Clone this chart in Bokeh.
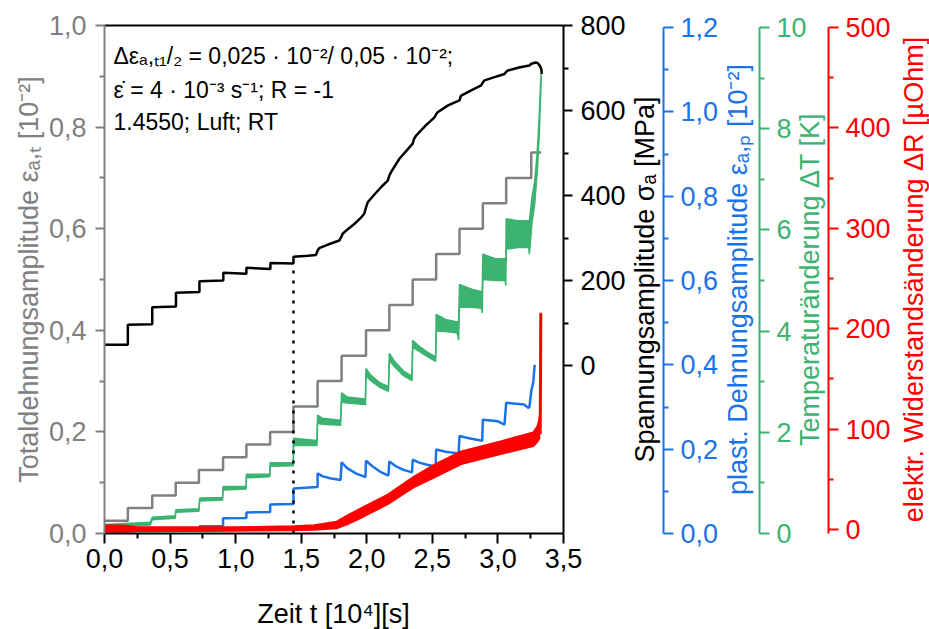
import math
from bokeh.plotting import figure
from bokeh.models import Range1d, LinearAxis, FixedTicker, Label, CustomJSTickFormatter
from bokeh.embed import file_html
from bokeh.resources import INLINE

FONT = "Liberation Sans"
GRAY = "#808080"
BLUE = "#1a73e8"
GREEN = "#3cb371"
RED = "#ff0000"
BLACK = "#000000"

# ---------------- data (time in 10^4 s) ----------------
# total strain amplitude (gray, step function)
gray_t = [0.0, 0.178, 0.364, 0.543, 0.720, 0.904, 1.082, 1.263, 1.441, 1.625, 1.808,
          1.994, 2.172, 2.350, 2.529, 2.707, 2.885, 3.063, 3.254, 3.330]
gray_eps = [0.025, 0.05, 0.075, 0.10, 0.125, 0.15, 0.175, 0.20, 0.25, 0.30, 0.35,
            0.40, 0.45, 0.50, 0.55, 0.60, 0.65, 0.70, 0.75, 0.75]

# stress amplitude [MPa] (black)
stress_t = [0.0, 0.178, 0.178, 0.364, 0.364, 0.545, 0.545, 0.724, 0.724, 0.906, 0.906,
            1.082, 1.082, 1.265, 1.265, 1.441, 1.441, 1.55, 1.612, 1.625, 1.637, 1.70,
            1.79, 1.808, 1.816, 1.86, 1.905, 1.95, 1.981, 1.994, 2.007, 2.06, 2.11, 2.16,
            2.172, 2.185, 2.25, 2.31, 2.35, 2.36, 2.376, 2.45, 2.516, 2.529, 2.54, 2.62,
            2.707, 2.715, 2.72, 2.80, 2.872, 2.885, 2.898, 2.98, 3.05, 3.063, 3.076, 3.16,
            3.24, 3.255, 3.267, 3.29, 3.305, 3.32, 3.33, 3.335]
stress_val = [49, 49, 96, 97, 137, 139, 171, 173, 198, 200, 218,
              216, 230, 227, 241, 240, 256, 258, 260, 270, 276, 284,
              294, 304, 310, 322, 333, 346, 357, 372, 384, 403, 420, 435,
              447, 455, 487, 508, 522, 533, 541, 565, 584, 591, 596, 612,
              624, 632, 635, 648, 659, 666, 671, 679, 686, 691, 694, 701,
              706, 710, 711, 713, 711, 705, 698, 686]

# plastic strain amplitude [10^-2] (blue)
plast_t = [0.720, 0.904, 0.904, 1.082, 1.082, 1.263, 1.263, 1.441, 1.441, 1.625, 1.625,
           1.66, 1.72, 1.80, 1.808, 1.85, 1.92, 1.99, 1.994, 2.04, 2.10, 2.165, 2.172,
           2.22, 2.28, 2.345, 2.35, 2.40, 2.46, 2.525, 2.529, 2.60, 2.70, 2.707, 2.78,
           2.88, 2.885, 3.00, 3.05, 3.063, 3.20, 3.23, 3.24, 3.255, 3.27, 3.28]
plast_val = [0.017, 0.018, 0.036, 0.037, 0.050, 0.051, 0.069, 0.070, 0.107, 0.110, 0.143,
             0.136, 0.131, 0.127, 0.169, 0.155, 0.142, 0.134, 0.173, 0.160, 0.147, 0.1375, 0.171,
             0.160, 0.151, 0.145, 0.175, 0.168, 0.163, 0.159, 0.199, 0.194, 0.190, 0.231, 0.226,
             0.220, 0.270, 0.266, 0.258, 0.310, 0.306, 0.298, 0.300, 0.339, 0.360, 0.400]

# temperature change [K] (green band: lower / upper envelope)
temp_t = [0.00, 0.35, 0.364, 0.54, 0.543, 0.72, 0.726, 0.90, 0.904, 1.08, 1.082, 1.26,
          1.263, 1.44, 1.441, 1.62, 1.625, 1.66, 1.80, 1.808, 1.85, 1.99, 1.994, 2.03,
          2.10, 2.165, 2.172, 2.21, 2.28, 2.345, 2.35, 2.40, 2.46, 2.525, 2.529, 2.60,
          2.69, 2.70, 2.707, 2.80, 2.875, 2.88, 2.885, 2.98, 3.055, 3.06, 3.063, 3.15,
          3.235, 3.24, 3.26, 3.28, 3.30, 3.315, 3.325, 3.33]
temp_lo = [0.13, 0.17, 0.27, 0.30, 0.42, 0.44, 0.64, 0.66, 0.86, 0.88, 1.10, 1.12,
           1.33, 1.34, 1.74, 1.74, 2.18, 2.16, 2.14, 2.60, 2.58, 2.55, 3.12, 3.02,
           2.89, 2.81, 3.42, 3.30, 3.12, 3.02, 3.68, 3.60, 3.50, 3.40, 4.00, 3.99,
           3.96, 3.82, 4.47, 4.47, 4.45, 4.36, 5.02, 5.00, 5.00, 4.90, 5.62, 5.65,
           5.65, 5.52, 6.15, 6.50, 7.15, 7.90, 8.60, 9.00]
temp_hi = [0.18, 0.22, 0.32, 0.35, 0.47, 0.49, 0.70, 0.71, 0.93, 0.93, 1.17, 1.17,
           1.40, 1.40, 1.88, 1.84, 2.34, 2.28, 2.24, 2.78, 2.70, 2.66, 3.26, 3.13,
           2.98, 2.90, 3.56, 3.41, 3.21, 3.11, 3.82, 3.70, 3.59, 3.49, 4.33, 4.23,
           4.18, 4.18, 4.92, 4.83, 4.78, 4.78, 5.52, 5.43, 5.43, 5.38, 6.22, 6.18,
           6.18, 6.18, 6.65, 6.95, 7.55, 8.25, 8.90, 9.10]

# electrical resistance change [uOhm] (red band)
res_t = [0.00, 0.17, 0.25, 1.00, 1.44, 1.60, 1.77, 1.85, 1.98, 2.16, 2.36, 2.52,
         2.72, 3.02, 3.27, 3.30, 3.315, 3.322]
res_lo = [-2.5, -2.5, -2.0, -1.5, -1.0, -0.5, 1.0, 5, 13, 25, 42, 52,
          65, 75, 83, 87, 90, 92]
res_hi = [4.5, 4.0, 2.5, 2.5, 3.5, 4.5, 8.0, 14, 23, 35, 53, 65,
          78, 88, 97, 103, 110, 120]
res_spike_t = [3.322, 3.325, 3.327]
res_spike_val = [95, 160, 216]

# ---------------- layout (pixels of the 929 x 629 page) ----------------
W, H = 929, 629
PL, PR, PT, PB = 104, 563, 25, 533      # main plot box
T_MAX = 3.5


def px_to_t(px):                         # horizontal pixel -> time
    return (px - PL) * T_MAX / (PR - PL)


def py_lin(v0_py, v1_py, v1):            # vertical pixel -> value, for one scale
    return lambda py: (v0_py - py) * v1 / (v0_py - v1_py)


to_eps = py_lin(PB, PT, 1.0)             # total strain   0 at 533, 1.0 at 25
to_sig = py_lin(365, PT, 800.0)          # stress         0 at 365, 800 at 25
to_epl = py_lin(PB, 27, 1.2)             # plastic strain 0 at 533, 1.2 at 27
to_tmp = py_lin(PB, 27, 10.0)            # temperature    0 at 533, 10 at 27
to_res = py_lin(529, 27, 500.0)          # resistance     0 at 529, 500 at 27

p = figure(frame_width=W, frame_height=H,
           x_range=Range1d(px_to_t(0), px_to_t(W)),
           y_range=Range1d(to_eps(H), to_eps(0)),
           x_axis_location=None, y_axis_location=None,
           output_backend="svg", toolbar_location=None,
           min_border=0)
p.grid.visible = False
p.outline_line_color = None
p.background_fill_color = "white"
p.border_fill_color = "white"

p.extra_y_ranges = {
    "stress": Range1d(to_sig(H), to_sig(0)),
    "plast": Range1d(to_epl(H), to_epl(0)),
    "temp": Range1d(to_tmp(H), to_tmp(0)),
    "res": Range1d(to_res(H), to_res(0)),
}


def make_axis(color, ticks, minor, major_out=9, minor_out=5, standoff=7, comma=False, **kw):
    ax = LinearAxis(**kw)
    ax.ticker = FixedTicker(ticks=ticks, minor_ticks=minor)
    if comma:
        ax.formatter = CustomJSTickFormatter(code="return tick.toFixed(1).replace('.', ',')")
    ax.axis_line_color = color
    ax.axis_line_width = 2
    ax.major_tick_line_color = color
    ax.major_tick_line_width = 2
    ax.minor_tick_line_color = color
    ax.minor_tick_line_width = 2
    ax.major_tick_in = 0
    ax.major_tick_out = major_out
    ax.minor_tick_in = 0
    ax.minor_tick_out = minor_out
    ax.major_label_text_color = color
    ax.major_label_text_font = FONT
    ax.major_label_text_font_size = "27px"
    ax.major_label_standoff = standoff
    return ax


# bottom time axis
ax_x = make_axis(BLACK, [0.0, 0.5, 1.0, 1.5, 2.0, 2.5, 3.0, 3.5],
                 [0.25, 0.75, 1.25, 1.75, 2.25, 2.75, 3.25],
                 major_out=10, standoff=5, comma=True,
                 fixed_location=0.0, bounds=(0, T_MAX))
p.add_layout(ax_x, "below")

# top border line
ax_top = LinearAxis(ticker=FixedTicker(ticks=[]), axis_line_color=BLACK, axis_line_width=2,
                    major_tick_out=0, major_tick_in=0, major_label_standoff=0,
                    minor_tick_out=0, minor_tick_in=0,
                    fixed_location=1.0, bounds=(0, T_MAX))
p.add_layout(ax_top, "above")

# left axis: total strain amplitude
ax_y = make_axis(GRAY, [0.0, 0.2, 0.4, 0.6, 0.8, 1.0], [0.1, 0.3, 0.5, 0.7, 0.9],
                 standoff=9, comma=True, fixed_location=0.0, bounds=(0, 1.0))
p.add_layout(ax_y, "left")

# right-hand axes
ax_s = make_axis(BLACK, [0, 200, 400, 600, 800], [100, 300, 500, 700], standoff=8,
                 y_range_name="stress", fixed_location=T_MAX,
                 bounds=(to_sig(PB), to_sig(PT)))
ax_p = make_axis(BLUE, [0.0, 0.2, 0.4, 0.6, 0.8, 1.0, 1.2], [0.1, 0.3, 0.5, 0.7, 0.9, 1.1],
                 major_out=10, standoff=7, comma=True,
                 y_range_name="plast", fixed_location=px_to_t(663), bounds=(0, 1.2))
ax_t = make_axis(GREEN, [0, 2, 4, 6, 8, 10], [1, 3, 5, 7, 9], major_out=10, standoff=7,
                 y_range_name="temp", fixed_location=px_to_t(759), bounds=(0, 10))
ax_r = make_axis(RED, [0, 100, 200, 300, 400, 500], [50, 150, 250, 350, 450],
                 major_out=10, standoff=7,
                 y_range_name="res", fixed_location=px_to_t(828),
                 bounds=(to_res(PB), 500))
for ax in (ax_s, ax_p, ax_t, ax_r):
    p.add_layout(ax, "right")

# ---------------- glyphs ----------------
p.step(gray_t, gray_eps, mode="after", line_color=GRAY, line_width=2.5)

p.varea(x=temp_t, y1=temp_lo, y2=temp_hi, y_range_name="temp", fill_color=GREEN)
p.line(temp_t, temp_lo, y_range_name="temp", line_color=GREEN, line_width=1.5)
p.line(temp_t, temp_hi, y_range_name="temp", line_color=GREEN, line_width=1.5)

p.line(plast_t, plast_val, y_range_name="plast", line_color=BLUE, line_width=2.5)

p.varea(x=res_t, y1=res_lo, y2=res_hi, y_range_name="res", fill_color=RED)
p.line(res_t, res_lo, y_range_name="res", line_color=RED, line_width=1.5)
p.line(res_t, res_hi, y_range_name="res", line_color=RED, line_width=1.5)
p.line(res_spike_t, res_spike_val, y_range_name="res", line_color=RED, line_width=3)

p.line(stress_t, stress_val, y_range_name="stress", line_color=BLACK, line_width=2.5)

# dotted marker line at the change of the step size (from time axis up to the stress curve)
i_change = stress_t.index(1.441)
p.segment(x0=[stress_t[i_change]], y0=[to_sig(PB)],
          x1=[stress_t[i_change]], y1=[stress_val[i_change]],
          y_range_name="stress", line_color=BLACK, line_width=2.5, line_dash="3 7")

# ---------------- axis titles ----------------
def title(txt, col, px, py, angle=0.0):
    p.add_layout(Label(x=px_to_t(px), y=to_eps(py), text=txt, angle=angle,
                       text_align="center", text_baseline="middle",
                       text_font=FONT, text_font_size="27px", text_color=col))


title("Zeit t [10⁴][s]", BLACK, 333, 613)
title("Totaldehnungsamplitude εₐ,ₜ [10⁻²]", GRAY, 28, 279, math.pi / 2)
title("Spannungsamplitude σₐ [MPa]", BLACK, 644, 279, math.pi / 2)
title("plast. Dehnungsamplitude εₐ,ₚ [10⁻²]", BLUE, 737, 279, math.pi / 2)
title("Temperaturänderung ΔT [K]", GREEN, 809, 279, math.pi / 2)
title("elektr. Widerstandsänderung ΔR [µOhm]", RED, 913, 279, math.pi / 2)

# ---------------- annotation ----------------
lines = ["Δεₐ,ₜ₁/₂ = 0,025 · 10⁻²/ 0,05 · 10⁻²;",
         "ε̇ = 4 · 10⁻³ s⁻¹; R = -1",
         "1.4550; Luft; RT"]
for txt, py in zip(lines, [55, 89, 121]):
    p.add_layout(Label(x=px_to_t(113), y=to_eps(py), text=txt, text_font=FONT,
                       text_font_size="23px", text_color=BLACK,
                       text_baseline="alphabetic"))

open("out.html", "w").write(file_html(p, INLINE))
